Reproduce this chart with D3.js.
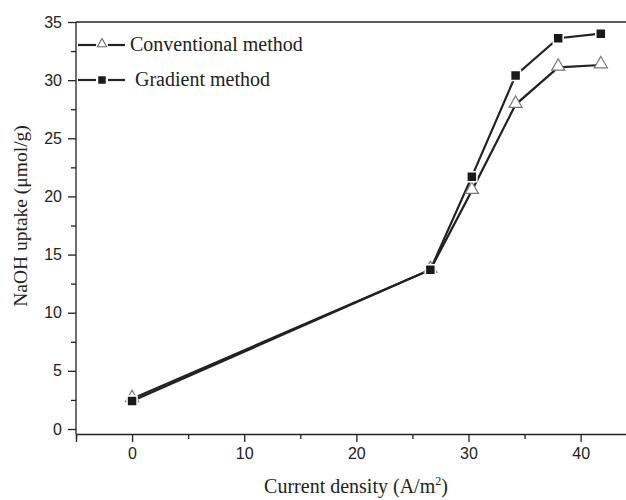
<!DOCTYPE html>
<html>
<head>
<meta charset="utf-8">
<script src="https://cdn.jsdelivr.net/npm/d3@7"></script>
<style>
  body { margin: 0; background: #fff; }
  svg { display: block; }
  .tick text { font-family: "Liberation Sans", Arial, sans-serif; font-size: 16px; fill: #222; }
  .title { font-family: "Liberation Serif", "Times New Roman", serif; font-size: 20px; fill: #222; }
</style>
</head>
<body>
<svg width="626" height="500"></svg>
<script>
// current density (A/m2)
const density = [0, 26.6, 30.3, 34.2, 38, 41.8];
// NaOH uptake (umol/g)
const conventional = [2.6, 13.7, 20.5, 27.9, 31.1, 31.3];
const gradient = [2.4, 13.7, 21.7, 30.4, 33.6, 34.0];

const xMajor = [0, 10, 20, 30, 40];
const xMinor = [-5, 5, 15, 25, 35, 45];
const yMajor = [0, 5, 10, 15, 20, 25, 30, 35];
const yMinor = [2.5, 7.5, 12.5, 17.5, 22.5, 27.5, 32.5];

const svg = d3.select("svg");
const ink = "#222";

const x = d3.scaleLinear().domain([-5, 45]).range([76, 636.7]);
const y = d3.scaleLinear().domain([0, 35]).range([429, 22]);
const xAxisY = 434;

// x axis
const gx = svg.append("g").attr("transform", "translate(0," + xAxisY + ")");
gx.call(d3.axisBottom(x).tickValues(xMajor).tickSize(8).tickPadding(6).tickFormat(d3.format("d")));
gx.append("g").call(d3.axisBottom(x).tickValues(xMinor).tickSize(5).tickFormat(""))
  .select(".domain").remove();

// y axis
const gy = svg.append("g").attr("transform", "translate(76,0)");
gy.call(d3.axisLeft(y).tickValues(yMajor).tickSize(8).tickPadding(6).tickFormat(d3.format("d")));
gy.append("g").call(d3.axisLeft(y).tickValues(yMinor).tickSize(5).tickFormat(""))
  .select(".domain").remove();
gy.select(".domain").attr("d", "M0," + xAxisY + "V22");

svg.selectAll(".domain, .tick line").attr("stroke", ink).attr("stroke-width", 1.3);

// top frame line
svg.append("line")
  .attr("x1", 76).attr("x2", 626)
  .attr("y1", 22).attr("y2", 22)
  .attr("stroke", ink).attr("stroke-width", 1.3);

// titles
svg.append("text").attr("class", "title")
  .attr("x", 356).attr("y", 493).attr("text-anchor", "middle")
  .html("Current density (A/m<tspan dy='-8' font-size='12'>2</tspan><tspan dy='8'>)</tspan>");

svg.append("text").attr("class", "title")
  .attr("transform", "translate(27,216) rotate(-90)")
  .attr("text-anchor", "middle")
  .style("font-size", "19.5px")
  .text("NaOH uptake (\u03bcmol/g)");

// lines
const line = d3.line().x(d => x(d[0])).y(d => y(d[1]));
const convPts = density.map((d, i) => [d, conventional[i]]);
const gradPts = density.map((d, i) => [d, gradient[i]]);

[convPts, gradPts].forEach(pts => {
  svg.append("path").datum(pts)
    .attr("d", line)
    .attr("fill", "none")
    .attr("stroke", ink)
    .attr("stroke-width", 2.2);
});

const tri = d3.symbol().type(d3.symbolTriangle).size(75);
const sq = d3.symbol().type(d3.symbolSquare).size(100);

svg.selectAll(".conv").data(convPts).enter().append("path")
  .attr("class", "conv")
  .attr("transform", d => "translate(" + x(d[0]) + "," + (y(d[1]) - 1) + ")")
  .attr("d", tri)
  .attr("fill", "#fff").attr("stroke", "#777").attr("stroke-width", 1.2);

svg.selectAll(".grad").data(gradPts).enter().append("path")
  .attr("class", "grad")
  .attr("transform", d => "translate(" + x(d[0]) + "," + y(d[1]) + ")")
  .attr("d", sq)
  .attr("fill", "#1a1a1a").attr("stroke", "#fff").attr("stroke-width", 1.5);

// legend
const triSmall = d3.symbol().type(d3.symbolTriangle).size(38);
const sqSmall = d3.symbol().type(d3.symbolSquare).size(56);
const legend = [
  { label: "Conventional method", sym: triSmall, isTri: true, ty: 45, tx: 130 },
  { label: "Gradient method", sym: sqSmall, isTri: false, ty: 80, tx: 135 }
];
legend.forEach(l => {
  const g = svg.append("g");
  g.append("line").attr("x1", 78).attr("x2", 96).attr("y1", l.ty).attr("y2", l.ty)
    .attr("stroke", ink).attr("stroke-width", 2.2);
  g.append("line").attr("x1", 108).attr("x2", 125).attr("y1", l.ty).attr("y2", l.ty)
    .attr("stroke", ink).attr("stroke-width", 2.2);
  g.append("path").attr("d", l.sym)
    .attr("transform", "translate(102," + (l.ty - (l.isTri ? 1 : 0)) + ")")
    .attr("fill", l.isTri ? "#fff" : "#1a1a1a")
    .attr("stroke", l.isTri ? "#666" : "none").attr("stroke-width", 1.1);
  g.append("text").attr("class", "title")
    .attr("x", l.tx).attr("y", l.ty + 6)
    .text(l.label);
});
</script>
</body>
</html>
